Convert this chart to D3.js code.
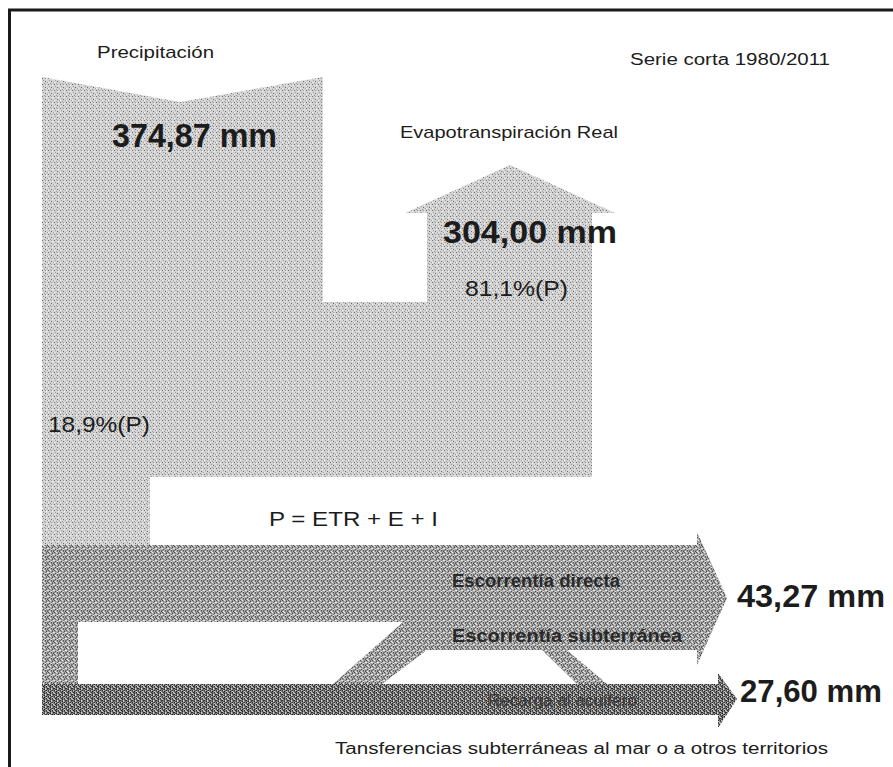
<!DOCTYPE html>
<html>
<head>
<meta charset="utf-8">
<style>
  body { margin: 0; background: #fff; }
  svg { display: block; }
  text { font-family: "Liberation Sans", Arial, sans-serif; fill: #1c1c1c; }
</style>
</head>
<body>
<svg id="chart" width="893" height="767"></svg>
<script src="https://d3js.org/d3.v7.min.js"></script>
<script>
// balance hidrico, serie corta
var period = "Serie corta 1980/2011";
var flowNames = ["Precipitación", "Evapotranspiración Real", "Escorrentía directa",
                 "Escorrentía  subterránea", "Recarga al acuífero",
                 "Tansferencias subterráneas al mar o a otros territorios"];
var flowValues = [374.87, 304.00, 43.27, 27.60];   // mm: P, ETR, E, I
var shareValues = [81.1, 18.9];                    // % of P: ETR, E + I
var equation = "P = ETR + E + I";

var es = d3.formatLocale({decimal: ",", thousands: ".", grouping: [3], currency: ["", " €"]});
var fmtMm = es.format(".2f"), fmtPct = es.format(".1f");

var svg = d3.select("#chart"),
    width = +svg.attr("width"),
    height = +svg.attr("height");

// page coordinates of the scanned sheet
var x = d3.scaleLinear().domain([0, 893]).range([0, width]),
    y = d3.scaleLinear().domain([0, 767]).range([0, height]);

// halftone-ish textures (fixed pixel maps)
var textures = {
  light: {bg: "#d4d4d4", ink: {x: "#6c6c6c", o: "#9c9c9c", w: "#f2f2f2"},
          map: ["x..o..", "....w.", ".o....", "...x..", "w....o", "..o..."]},
  mid:   {bg: "#ababab", ink: {x: "#4e4e4e", o: "#7a7a7a", w: "#e6e6e6"},
          map: ["x.w.o.", ".o..x.", "w..o.w", ".x.w..", "o..x.o", ".w.o.x"]},
  dark:  {bg: "#8a8a8a", ink: {x: "#2a2a2a", o: "#555", w: "#cfcfcf"},
          map: ["xw.ox.", "o.x.w.", ".xo.xw", "w.x.o.", "x.ow.x", ".oxw.o"]}
};

var defs = svg.append("defs");
Object.keys(textures).forEach(function(k) {
  var t = textures[k];
  var p = defs.append("pattern").attr("id", "tex-" + k)
      .attr("patternUnits", "userSpaceOnUse")
      .attr("width", t.map[0].length).attr("height", t.map.length);
  p.append("rect").attr("width", t.map[0].length).attr("height", t.map.length).attr("fill", t.bg);
  t.map.forEach(function(row, j) {
    row.split("").forEach(function(c, i) {
      if (t.ink[c]) p.append("rect").attr("x", i).attr("y", j).attr("width", 1).attr("height", 1).attr("fill", t.ink[c]);
    });
  });
});

// flow shapes
var shapes = [
  {tex: "light", pts: [[42,77],[180,102],[323,77],[323,302],[427,302],[427,213],[405,213],[510,165],
                       [615,213],[592,213],[592,477],[150,477],[150,545],[42,545]]},
  {tex: "mid",   pts: [[42,545],[697,545],[697,532],[727,598],[697,665],[697,650],[567,650],[607,684],[42,684]]},
  {tex: "white", pts: [[78,622],[403,622],[333,684],[78,684]]},
  {tex: "white", pts: [[427,650],[542,650],[577,684],[382,684]]},
  {tex: "dark",  pts: [[42,684],[718,684],[718,673],[737,699],[718,728],[718,715],[42,715]]}
];

var line = d3.line().x(function(d) { return x(d[0]); }).y(function(d) { return y(d[1]); })
    .curve(d3.curveLinearClosed);

svg.selectAll("path.flow").data(shapes).enter().append("path")
    .attr("class", "flow")
    .attr("d", function(d) { return line(d.pts); })
    .attr("fill", function(d) { return d.tex == "white" ? "#fff" : "url(#tex-" + d.tex + ")"; });

// frame of the scan
svg.append("path")
    .attr("d", "M" + x(9.5) + "," + y(767) + "V" + y(10) + "H" + x(893))
    .attr("fill", "none").attr("stroke", "#1a1a1a").attr("stroke-width", 3);

// labels
var labels = [
  {t: flowNames[0], x: 97, y: 58, s: 17, w: 117},
  {t: period, x: 630, y: 65, s: 16, w: 200},
  {t: fmtMm(flowValues[0]) + " mm", x: 112, y: 147, s: 33, w: 165, b: 1},
  {t: flowNames[1], x: 400, y: 138, s: 17, w: 218},
  {t: fmtMm(flowValues[1]) + " mm", x: 443, y: 243, s: 32, w: 174, b: 1},
  {t: fmtPct(shareValues[0]) + "%(P)", x: 465, y: 296, s: 22, w: 103},
  {t: fmtPct(shareValues[1]) + "%(P)", x: 48, y: 432, s: 22, w: 102},
  {t: equation, x: 269, y: 526, s: 21, w: 169},
  {t: flowNames[2], x: 452, y: 587, s: 18, w: 168, c: "#2a2a2a", b: 1},
  {t: flowNames[3], x: 452, y: 642, s: 18, w: 230, c: "#2a2a2a", b: 1},
  {t: fmtMm(flowValues[2]) + " mm", x: 737, y: 607, s: 32, w: 148, b: 1},
  {t: flowNames[4], x: 488, y: 706, s: 16, w: 149, c: "#3a3a3a"},
  {t: fmtMm(flowValues[3]) + " mm", x: 740, y: 702, s: 31, w: 142, b: 1},
  {t: flowNames[5], x: 335, y: 754, s: 16, w: 493}
];

svg.selectAll("text.lab").data(labels).enter().append("text")
    .attr("class", "lab")
    .attr("x", function(d) { return x(d.x); })
    .attr("y", function(d) { return y(d.y); })
    .attr("font-size", function(d) { return d.s; })
    .attr("font-weight", function(d) { return d.b ? "bold" : "normal"; })
    .attr("textLength", function(d) { return d.w; })
    .attr("lengthAdjust", "spacingAndGlyphs")
    .style("fill", function(d) { return d.c || null; })
    .text(function(d) { return d.t; });
</script>
</body>
</html>
